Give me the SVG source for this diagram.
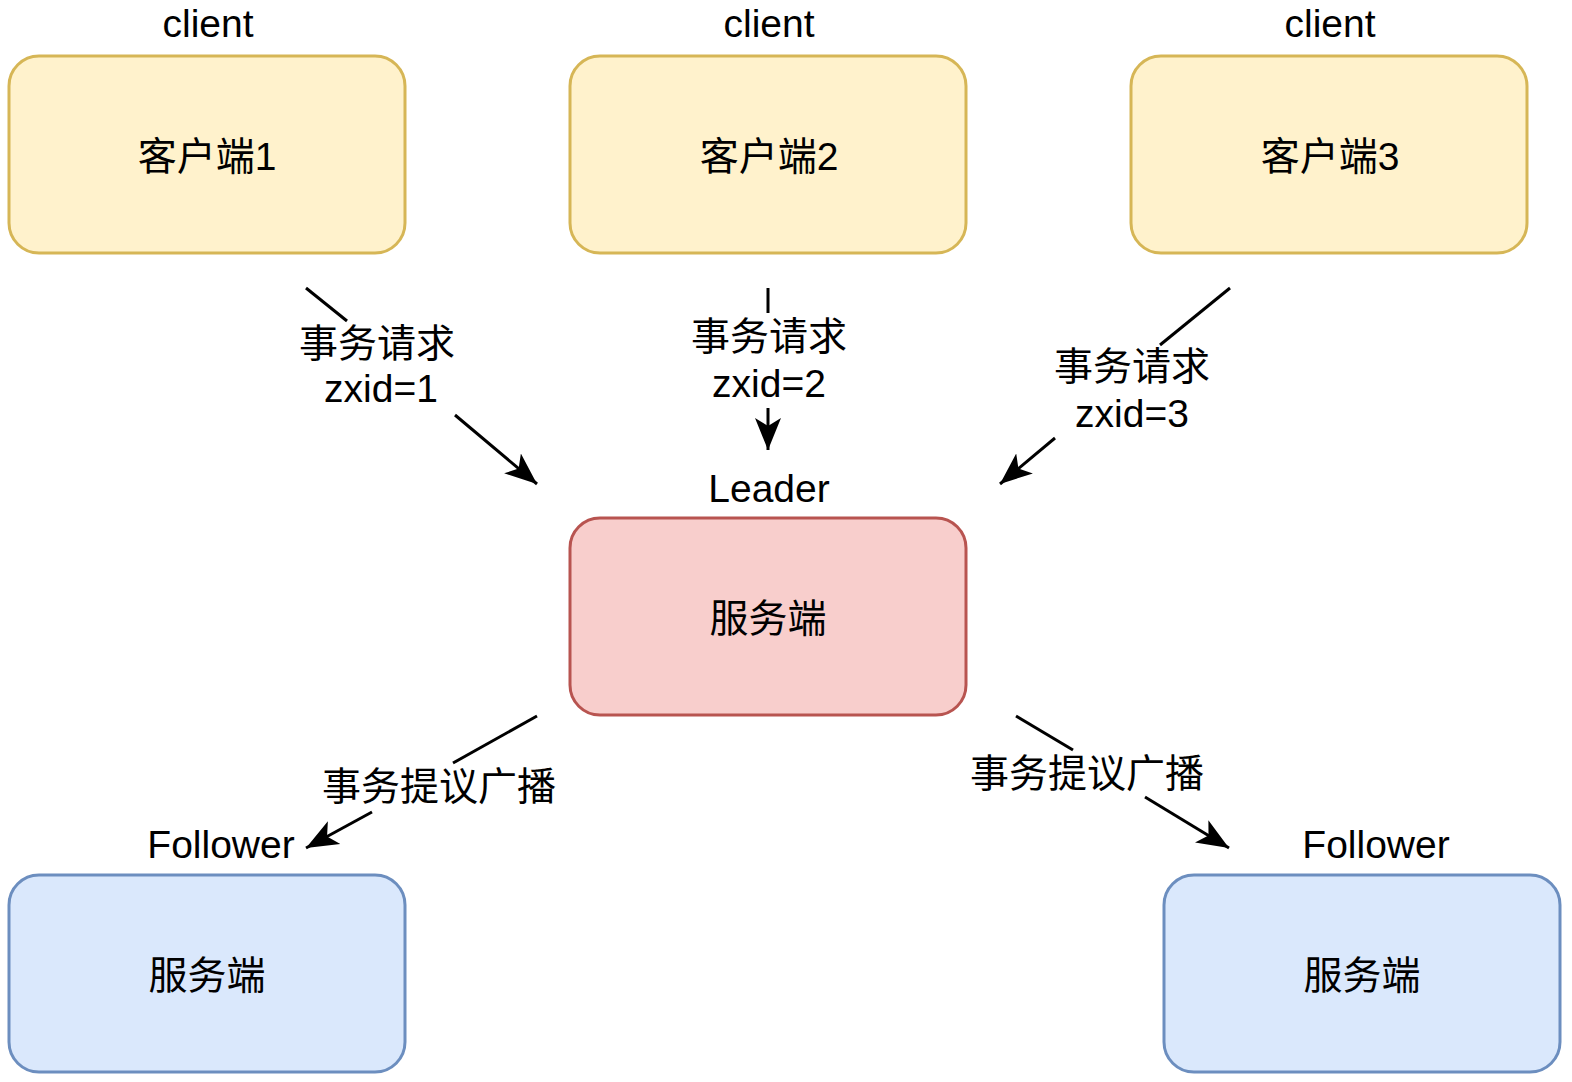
<svg xmlns="http://www.w3.org/2000/svg" width="1572" height="1082" viewBox="0 0 1572 1082">
<style>
.t{font-family:"Liberation Sans","Noto Sans CJK SC",sans-serif;font-size:39px;fill:#000;text-anchor:middle}
.c{fill:#fff2cc;stroke:#d6b656;stroke-width:3}
.l{fill:#f8cecc;stroke:#b85450;stroke-width:3}
.f{fill:#dae8fc;stroke:#6c8ebf;stroke-width:3}
.e{stroke:#000;stroke-width:3;fill:none}
</style>
<defs>
<marker id="a" markerUnits="userSpaceOnUse" markerWidth="34" markerHeight="28" refX="32" refY="13" orient="auto" viewBox="0 0 34 26">
<path d="M0,0 L32,13 L0,26 L8,13 Z" fill="#000"/>
</marker>
</defs>
<rect width="1572" height="1082" fill="#fff"/>
<g id="client1"><rect class="c" x="9" y="56" width="396" height="197" rx="30"/><text class="t" x="208" y="37">client</text><text class="t" x="207" y="170">客户端1</text></g>
<g id="client2"><rect class="c" x="570" y="56" width="396" height="197" rx="30"/><text class="t" x="769" y="37">client</text><text class="t" x="769" y="170">客户端2</text></g>
<g id="client3"><rect class="c" x="1131" y="56" width="396" height="197" rx="30"/><text class="t" x="1330" y="37">client</text><text class="t" x="1330" y="170">客户端3</text></g>
<g id="leader"><rect class="l" x="570" y="518" width="396" height="197" rx="30"/><text class="t" x="769" y="502">Leader</text><text class="t" x="768" y="632">服务端</text></g>
<g id="follower1"><rect class="f" x="9" y="875" width="396" height="197" rx="30"/><text class="t" x="221" y="858">Follower</text><text class="t" x="207" y="989">服务端</text></g>
<g id="follower2"><rect class="f" x="1164" y="875" width="396" height="197" rx="30"/><text class="t" x="1376" y="858">Follower</text><text class="t" x="1362" y="989">服务端</text></g>
<g id="connectors">
<line class="e" x1="306" y1="288" x2="347" y2="321"/>
<line class="e" x1="455" y1="415" x2="537" y2="484" marker-end="url(#a)"/>
<text class="t" x="377" y="357">事务请求</text><text class="t" x="381" y="402">zxid=1</text>
<line class="e" x1="768" y1="288" x2="768" y2="313"/>
<line class="e" x1="768" y1="408" x2="768" y2="450" marker-end="url(#a)"/>
<text class="t" x="769" y="350">事务请求</text><text class="t" x="769" y="397">zxid=2</text>
<line class="e" x1="1230" y1="288" x2="1160" y2="345"/>
<line class="e" x1="1055" y1="438" x2="1000" y2="484" marker-end="url(#a)"/>
<text class="t" x="1132" y="380">事务请求</text><text class="t" x="1132" y="427">zxid=3</text>
<line class="e" x1="537" y1="716" x2="453" y2="763"/>
<line class="e" x1="372" y1="812" x2="306" y2="848" marker-end="url(#a)"/>
<text class="t" x="439" y="800">事务提议广播</text>
<line class="e" x1="1016" y1="716" x2="1073" y2="750"/>
<line class="e" x1="1145" y1="797" x2="1229" y2="848" marker-end="url(#a)"/>
<text class="t" x="1087" y="787">事务提议广播</text>
</g>
</svg>
